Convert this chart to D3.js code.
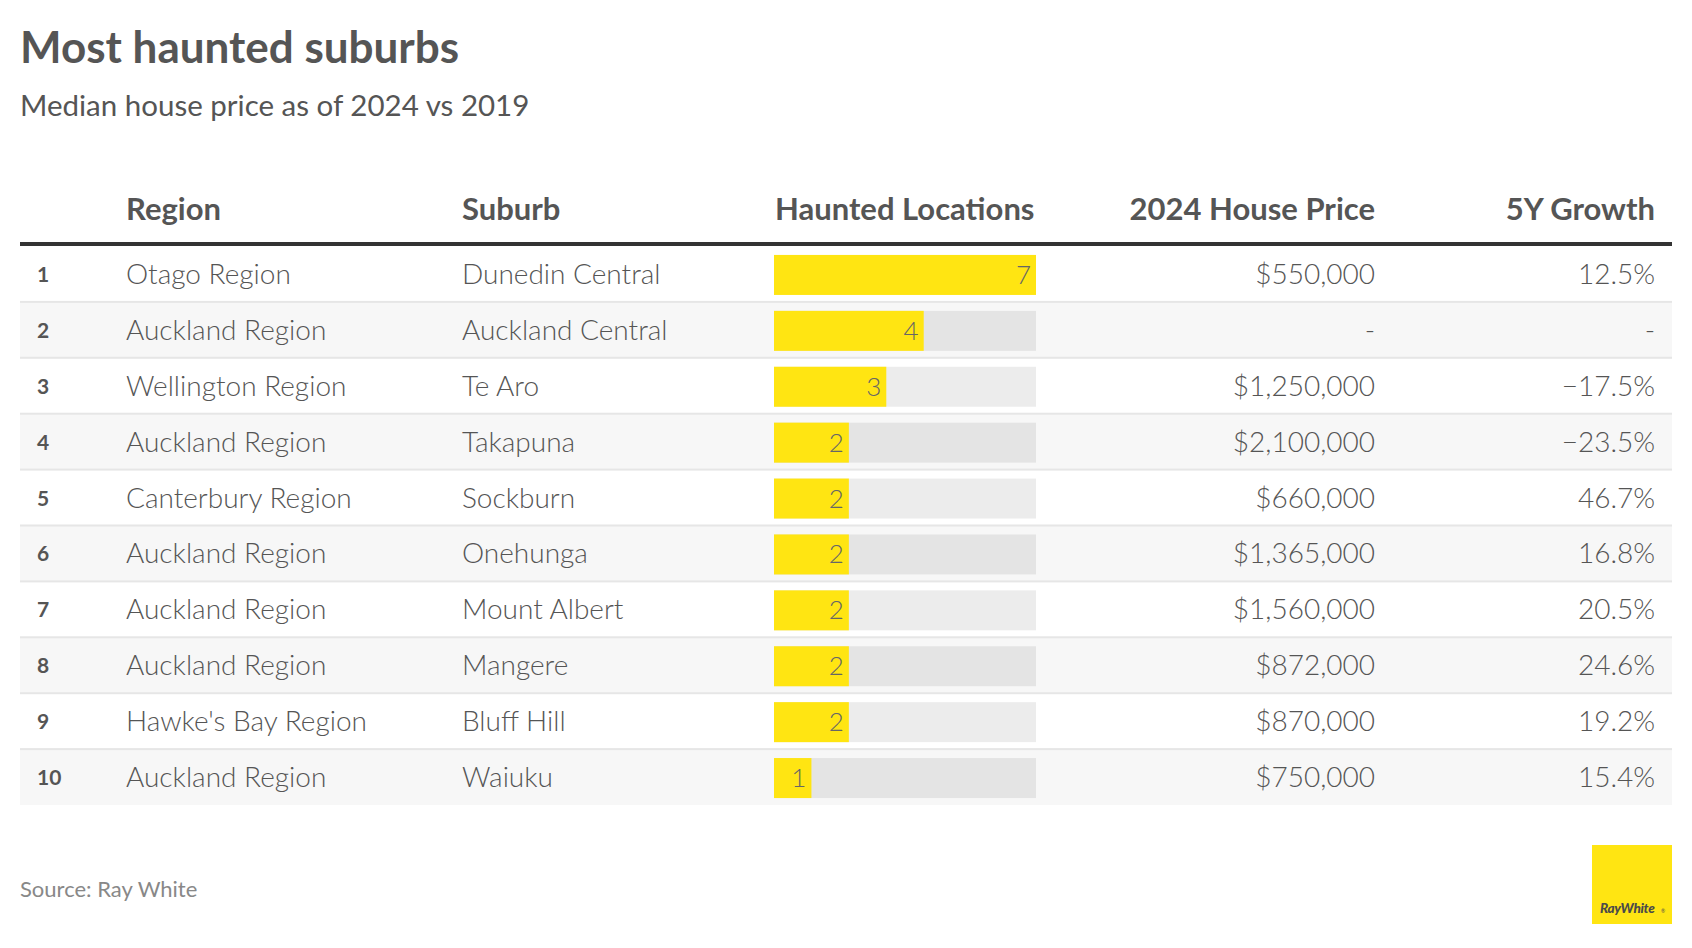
<!DOCTYPE html>
<html><head><meta charset="utf-8"><script src="https://cdn.jsdelivr.net/npm/d3@7"></script>
<style>body{margin:0;background:#fff}text{font-family:Lato,"Noto Sans",sans-serif}</style></head>
<body>
<svg id="chart" width="1692" height="948"></svg>
<script>
const ranks = [1,2,3,4,5,6,7,8,9,10];
const regions = ["Otago Region","Auckland Region","Wellington Region","Auckland Region","Canterbury Region","Auckland Region","Auckland Region","Auckland Region","Hawke's Bay Region","Auckland Region"];
const suburbs = ["Dunedin Central","Auckland Central","Te Aro","Takapuna","Sockburn","Onehunga","Mount Albert","Mangere","Bluff Hill","Waiuku"];
const haunted = [7,4,3,2,2,2,2,2,2,1];
const prices = ["$550,000","-","$1,250,000","$2,100,000","$660,000","$1,365,000","$1,560,000","$872,000","$870,000","$750,000"];
const growth = ["12.5%","-","\u221217.5%","\u221223.5%","46.7%","16.8%","20.5%","24.6%","19.2%","15.4%"];
const headers = ["Region","Suburb","Haunted Locations","2024 House Price","5Y Growth"];

const svg = d3.select("#chart");
const left = 20, right = 1672;
const tableTop = 246, tableBottom = 805;

svg.append("text").attr("x",20).attr("y",63).style("font-size","44px").style("font-weight",700).style("fill","#555").text("Most haunted suburbs");
svg.append("text").attr("x",20).attr("y",116).style("font-size","29.5px").style("font-weight",400).style("fill","#555").text("Median house price as of 2024 vs 2019");

const y = d3.scaleBand().domain(ranks).range([tableTop, tableBottom]).padding(0);
const x = d3.scaleLinear().domain([0, 7]).range([774, 1036]);

// header
const hx = [126, 462, 775, 1375, 1655];
const ha = ["start","start","start","end","end"];
svg.append("g").selectAll("text").data(headers).join("text")
  .attr("x",(d,i)=>hx[i]).attr("y",220).attr("text-anchor",(d,i)=>ha[i])
  .style("font-size","31px").style("font-weight",700).style("fill","#555").text(d=>d);

// rows
const rows = svg.append("g").selectAll("g").data(ranks).join("g").attr("transform",d=>`translate(0,${y(d)})`);
rows.append("rect").attr("x",left).attr("width",right-left).attr("height",y.bandwidth())
  .attr("fill",(d,i)=> i%2 ? "#f7f7f7" : "#ffffff");
rows.filter((d,i)=>i>0).append("rect").attr("x",left).attr("width",right-left).attr("y",-1).attr("height",2).attr("fill","#e6e6e6");

const cy = y.bandwidth()/2;
rows.append("text").attr("x",37).attr("y",cy+8).style("font-size","21px").style("font-weight",700).style("fill","#555").text(d=>d);
rows.append("text").attr("x",126).attr("y",cy+10).style("font-size","28px").style("font-weight",300).style("fill","#555").text((d,i)=>regions[i]);
rows.append("text").attr("x",462).attr("y",cy+10).style("font-size","28px").style("font-weight",300).style("fill","#555").text((d,i)=>suburbs[i]);
rows.append("text").attr("x",1375).attr("y",cy+10).attr("text-anchor","end").style("font-size","28px").style("font-weight",300).style("fill","#555").text((d,i)=>prices[i]);
rows.append("text").attr("x",1655).attr("y",cy+10).attr("text-anchor","end").style("font-size","28px").style("font-weight",300).style("fill","#555").text((d,i)=>growth[i]);

const barH = 40;
rows.append("rect").attr("x",x(0)).attr("width",x(7)-x(0)).attr("y",cy-barH/2+1).attr("height",barH).attr("fill","rgba(0,0,0,0.075)");
rows.append("rect").attr("x",x(0)).attr("width",(d,i)=>x(haunted[i])-x(0)).attr("y",cy-barH/2+1).attr("height",barH).attr("fill","#ffe512");
rows.append("text").attr("x",(d,i)=>x(haunted[i])-5).attr("y",cy+10).attr("text-anchor","end")
  .style("font-size","26px").style("font-weight",300).style("fill","#666").text((d,i)=>haunted[i]);

// header rule
svg.append("rect").attr("x",left).attr("width",right-left).attr("y",242).attr("height",4).attr("fill","#333");

// source
svg.append("text").attr("x",20).attr("y",897).style("font-size","22px").style("font-weight",400).style("fill","#888").text("Source: Ray White");

// logo
const logo = svg.append("g").attr("transform","translate(1592,845)");
logo.append("rect").attr("width",80).attr("height",79).attr("fill","#ffe512");
logo.append("text").attr("x",8).attr("y",68).style("font-size","13.5px").style("font-weight",900).style("font-style","italic").style("fill","#4a4a4a").style("letter-spacing","-0.3px").text("RayWhite");
logo.append("text").attr("x",69).attr("y",68).style("font-size","5px").style("fill","#4a4a4a").text("\u00ae");
</script>
</body></html>
